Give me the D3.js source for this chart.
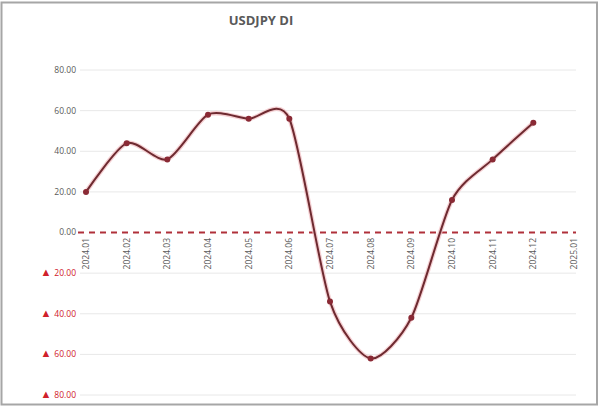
<!DOCTYPE html>
<html>
<head>
<meta charset="utf-8">
<script src="https://cdn.jsdelivr.net/npm/d3@7"></script>
<style>
  body { margin: 0; background: #fff; }
  text { font-family: "Open Sans", "Liberation Sans", sans-serif; }
</style>
</head>
<body>
<div id="chart-area"></div>
<script>
// data
var months = ["2024.01", "2024.02", "2024.03", "2024.04", "2024.05", "2024.06",
              "2024.07", "2024.08", "2024.09", "2024.10", "2024.11", "2024.12", "2025.01"];
var diValues = [20, 44, 36, 58, 56, 56, -34, -62, -42, 16, 36, 54];
var yTicks = [80, 60, 40, 20, 0, -20, -40, -60, -80];

var width = 600, height = 407;

var svg = d3.select("#chart-area").append("svg")
    .attr("width", width)
    .attr("height", height);

// frame
svg.append("rect")
    .attr("x", 1.5).attr("y", 2.5)
    .attr("width", 595.5).attr("height", 402)
    .attr("fill", "#fff")
    .attr("stroke", "#a6a6a6")
    .attr("stroke-width", 2);

// Scales
var x = d3.scalePoint().domain(months).range([86, 574]);
var y = d3.scaleLinear().domain([-80, 80]).range([395, 70]);

// title
svg.append("text")
    .attr("x", 261).attr("y", 25)
    .attr("text-anchor", "middle")
    .attr("font-size", "13px")
    .attr("font-weight", "bold")
    .attr("fill", "#595959")
    .text("USDJPY DI");

// gridlines
svg.append("g").selectAll("line")
    .data(yTicks.filter(function(d) { return d != 0; }))
    .enter().append("line")
    .attr("x1", 80).attr("x2", 576)
    .attr("y1", function(d) { return y(d); })
    .attr("y2", function(d) { return y(d); })
    .attr("stroke", "#e8e8e8")
    .attr("stroke-width", 1);

// y labels
var yLab = svg.append("g").selectAll("text")
    .data(yTicks)
    .enter().append("text")
    .attr("x", 76)
    .attr("y", function(d) { return y(d); })
    .attr("dy", "0.35em")
    .attr("text-anchor", "end")
    .attr("font-size", "8.5px")
    .attr("fill", function(d) { return d < 0 ? "#d0202a" : "#595959"; });

yLab.filter(function(d) { return d < 0; })
    .append("tspan")
    .attr("font-size", "11px")
    .text("\u25B2 ");
yLab.append("tspan")
    .text(function(d) { return Math.abs(d).toFixed(2); });

// x labels (rotated)
svg.append("g").selectAll("text")
    .data(months)
    .enter().append("text")
    .attr("transform", function(d) { return "translate(" + (x(d) + 3) + ",238) rotate(-90)"; })
    .attr("text-anchor", "end")
    .attr("font-size", "8.5px")
    .attr("fill", "#595959")
    .text(function(d) { return d; });

// zero line
svg.append("line")
    .attr("x1", 78).attr("x2", 576)
    .attr("y1", y(0)).attr("y2", y(0))
    .attr("stroke", "#b0303a")
    .attr("stroke-width", 2)
    .attr("stroke-dasharray", "6,5");

// Line path generator
var line = d3.line()
    .x(function(d, i) { return x(months[i]); })
    .y(function(d) { return y(d); })
    .curve(d3.curveCardinal.tension(0.25));

// soft halo behind the line
svg.append("path")
    .attr("d", line(diValues))
    .attr("fill", "none")
    .attr("stroke", "#f2c4c8")
    .attr("stroke-width", 4.5)
    .attr("opacity", 0.8);

svg.append("path")
    .attr("d", line(diValues))
    .attr("fill", "none")
    .attr("stroke", "#6e2a30")
    .attr("stroke-width", 2);

svg.append("g").selectAll("circle")
    .data(diValues)
    .enter().append("circle")
    .attr("cx", function(d, i) { return x(months[i]); })
    .attr("cy", function(d) { return y(d); })
    .attr("r", 3)
    .attr("fill", "#8a2a35");
</script>
</body>
</html>
